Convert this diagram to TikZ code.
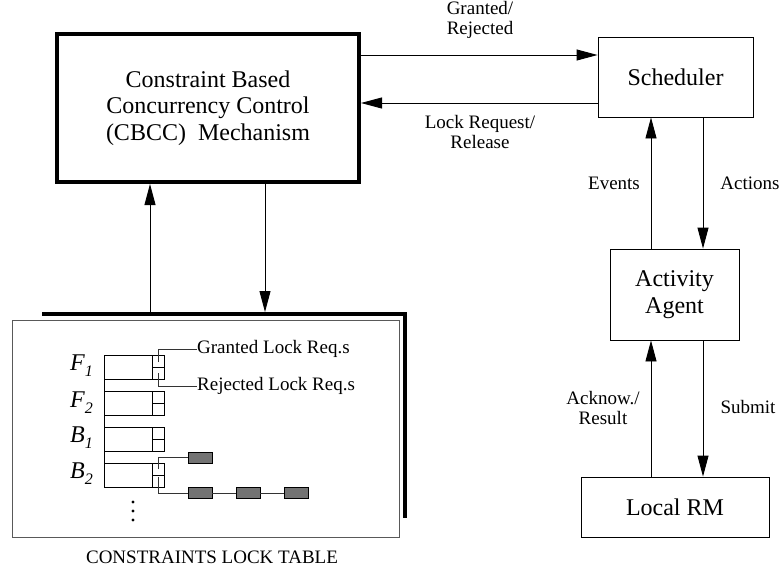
\documentclass[tikz,border=0pt]{standalone}
\usepackage{fontspec}
\setmainfont{Liberation Serif}
\usetikzlibrary{arrows.meta,calc}
\begin{document}
\begin{tikzpicture}[x=1pt,y=-1pt,
  box/.style={draw, line width=0.9pt, inner sep=0pt, align=center,
    font=\fontsize{24}{26.5}\selectfont},
  lbl/.style={font=\fontsize{19}{19.5}\selectfont, align=center, inner sep=0pt},
  arr/.style={line width=0.9pt, -{Triangle[length=21pt,width=11pt]}},
  thin/.style={line width=0.8pt, draw=black!80},
  entry/.style={draw, line width=0.8pt},
  req/.style={draw, line width=0.8pt, fill=black!55, minimum width=24pt,
    minimum height=11pt, inner sep=0pt},
  fl/.style={font=\fontsize{24}{24}\itshape, inner sep=0pt, anchor=base east}
]
\useasboundingbox (0,0) rectangle (781,571);

% main blocks
\node[box, line width=4pt, minimum width=302pt, minimum height=148pt]
  (cbcc) at (208,108) {Constraint Based\\Concurrency Control\\(CBCC)\ \ Mechanism};
\node[box, minimum width=155pt, minimum height=80pt] (sched) at (675.5,77) {Scheduler};
\node[box, minimum width=129pt, minimum height=91pt] (agent) at (674.5,294.5) {Activity\\Agent};
\node[box, minimum width=188pt, minimum height=60pt] (rm) at (675,507) {Local RM};

% helper coordinates for connector heights / columns
\coordinate (yg) at (0,55);
\coordinate (yl) at (0,103);
\coordinate (xe) at (651,0);
\coordinate (xa) at (703,0);

% CBCC <-> Scheduler
\draw[arr] (cbcc.east |- yg) -- (sched.west |- yg);
\draw[arr] (sched.west |- yl) -- (cbcc.east |- yl);
\node[lbl] (lg) at (480,20) {Granted/\\Rejected};
\node[lbl] (lr) at (480,132) {Lock Request/\\Release};

% Scheduler <-> Activity Agent
\draw[arr] (agent.north -| xe) -- (sched.south -| xe);
\draw[arr] (sched.south -| xa) -- (agent.north -| xa);
\node[lbl] (lev) at (614,183) {Events};
\node[lbl] (lac) at (750,183) {Actions};

% Activity Agent <-> Local RM
\draw[arr] (rm.north -| xe) -- (agent.south -| xe);
\draw[arr] (agent.south -| xa) -- (rm.north -| xa);
\node[lbl] (lak) at (603,408) {Acknow./\\Result};
\node[lbl] (lsu) at (748,407) {Submit};

% constraints lock table
\node[draw=black!65, line width=1pt, minimum width=387pt, minimum height=217pt,
  inner sep=0pt] (tbl) at (205.5,428.5) {};
\coordinate (sh1) at (42,314);
\coordinate (sh2) at (405,314);
\coordinate (sh3) at (405,518);
\draw[line width=4pt] (sh1) -- (sh2) -- (sh3);
\coordinate (up) at (150,314);
\coordinate (dn) at (265,312);
\draw[arr] (up) -- (cbcc.south -| up);
\draw[arr] (cbcc.south -| dn) -- (dn);
\node[lbl] (ltab) at (212,557) {CONSTRAINTS LOCK TABLE};

% entry rows with granted / rejected cells
\draw[entry] (104,355) -- (104,487);
\foreach \t in {355,391,427,463}{
  \draw[entry] (104,\t) rectangle (164,\t+24);
  \draw[entry] (152,\t) -- (152,\t+24);
  \draw[entry] (152,\t+12) -- (164,\t+12);
}
\node[fl] (f1) at (93,370) {F\raisebox{-6pt}{\fontsize{16}{16}\selectfont 1}};
\node[fl] (f2) at (93,407) {F\raisebox{-6pt}{\fontsize{16}{16}\selectfont 2}};
\node[fl] (b1) at (93,442) {B\raisebox{-6pt}{\fontsize{16}{16}\selectfont 1}};
\node[fl] (b2) at (93,478) {B\raisebox{-6pt}{\fontsize{16}{16}\selectfont 2}};

\node[lbl, anchor=west] (gl) at (197,349) {Granted Lock Req.s};
\node[lbl, anchor=west] (rl) at (197,386) {Rejected Lock Req.s};
\coordinate (c1) at (158,362);
\coordinate (c2) at (158,373);
\draw[thin] (c1) |- (gl.west);
\draw[thin] (c2) |- (rl.west);

% queued requests of the last entry
\node[req] (g1) at (200,457.5) {};
\node[req] (h1) at (200,493) {};
\node[req] (h2) at (248,493) {};
\node[req] (h3) at (296,493) {};
\coordinate (c3) at (158,469);
\coordinate (c4) at (158,477);
\draw[thin] (c3) |- (g1.west);
\draw[thin] (c4) |- (h1.west);
\draw[thin] (h1.east) -- (h2.west);
\draw[thin] (h2.east) -- (h3.west);

% continuation dots
\foreach \y in {502,511,520} \fill (133,\y) circle (1.6pt);
\end{tikzpicture}
\end{document}
